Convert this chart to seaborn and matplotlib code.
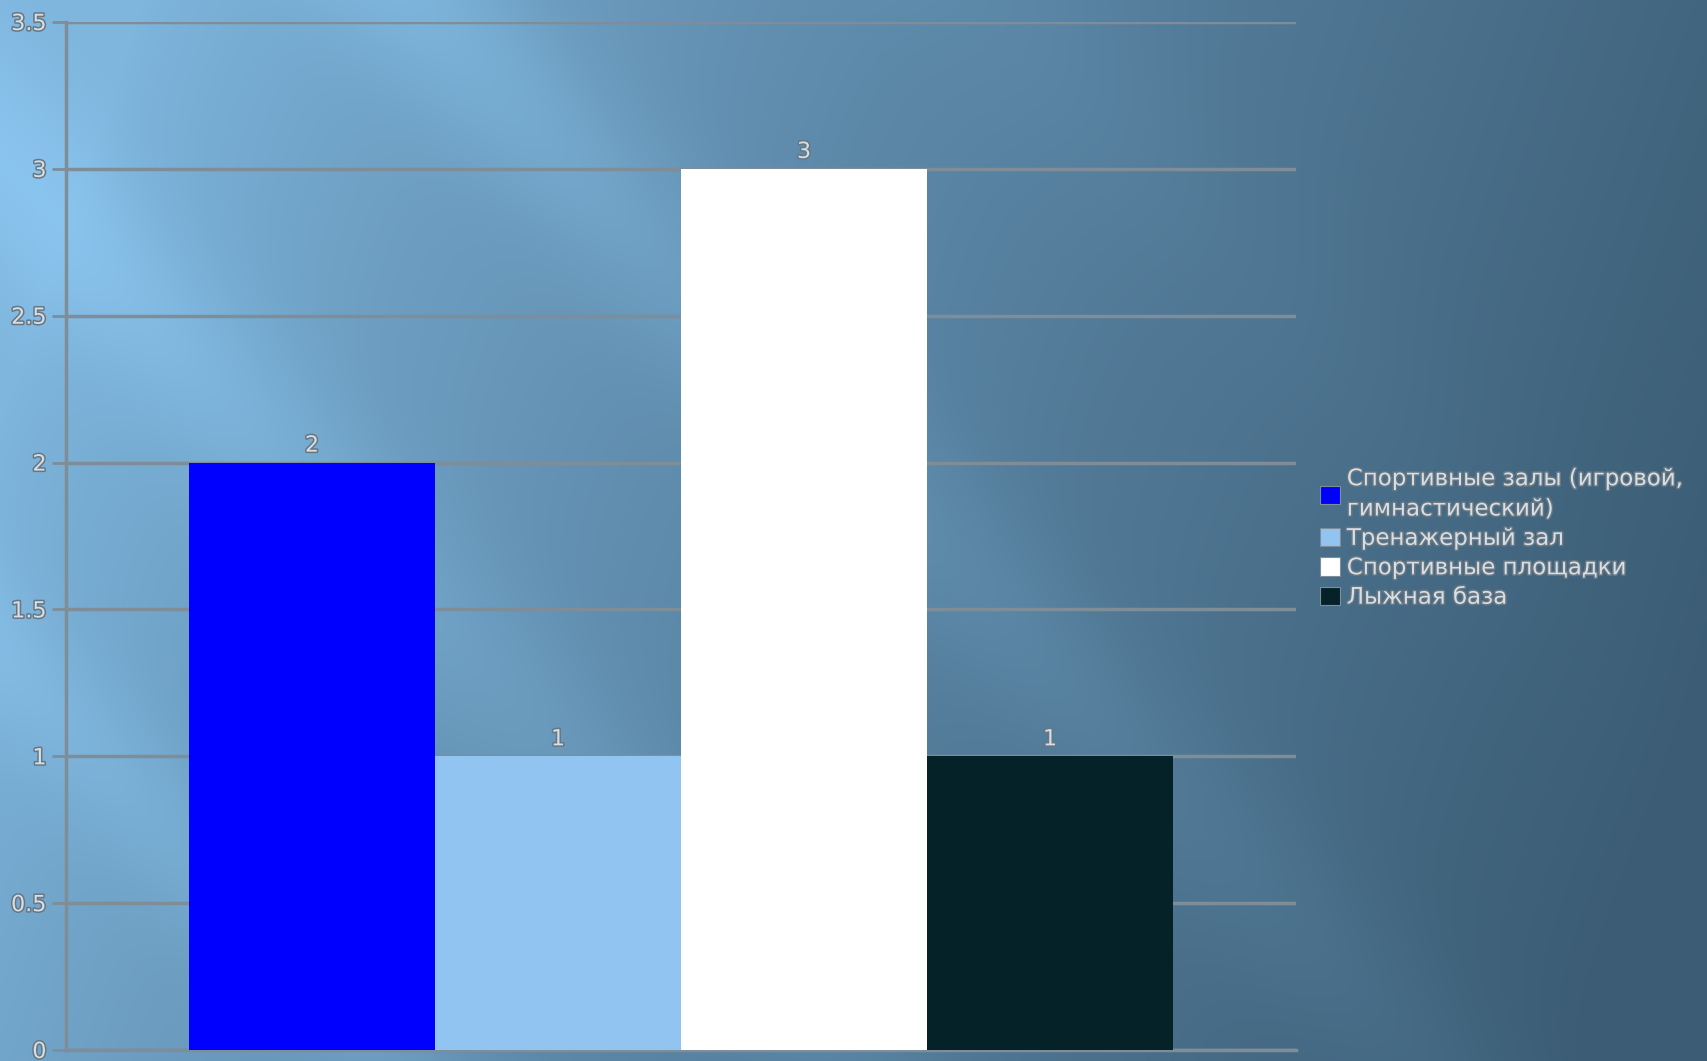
import numpy as np
import pandas as pd
import seaborn as sns
import matplotlib.pyplot as plt
import matplotlib.patheffects as pe
from matplotlib.colors import to_rgb

# Data
facilities = [
    "Спортивные залы (игровой,\nгимнастический)",
    "Тренажерный зал",
    "Спортивные площадки",
    "Лыжная база",
]
counts = [2, 1, 3, 1]
bar_colors = ["#0000ff", "#92c4f2", "#ffffff", "#062229"]
y_ticks = [0, 0.5, 1, 1.5, 2, 2.5, 3, 3.5]
y_tick_labels = ["0", "0.5", "1", "1.5", "2", "2.5", "3", "3.5"]

W, H = 1707, 1061
TEXT = "#d9dee2"
GRID = "#7f8d98"
outline = [pe.withStroke(linewidth=2.2, foreground="#667784")]

sns.set_theme(style="white")
plt.rcParams["font.family"] = ["DejaVu Sans"]

fig = plt.figure(figsize=(W / 100, H / 100), dpi=100)

# --- background gradient with diagonal light streaks ---
bg = fig.add_axes([0, 0, 1, 1], zorder=-10)
xx, yy = np.meshgrid(np.arange(W), np.arange(H))
xn, yn = xx / W, yy / H
light = np.array(to_rgb("#7fb6de"))
dark = np.array(to_rgb("#3b5c74"))
t = np.clip(0.95 * xn + 0.2 * yn - 0.08, 0, 1) ** 0.8
img = light * (1 - t[..., None]) + dark * t[..., None]
d = xx - 0.95 * yy
streak = (0.09 * np.exp(-((d - 420) / 110.0) ** 2) * np.clip(1.2 - xn, 0, 1)
          + 0.07 * np.exp(-((d + 150) / 110.0) ** 2) * np.clip(1.1 - xn, 0, 1)
          + 0.06 * np.exp(-((d + 620) / 90.0) ** 2)
          + 0.05 * np.exp(-((d - 1000) / 130.0) ** 2) * np.clip(1.0 - xn, 0, 1))
img = np.clip(img + streak[..., None] * np.array([0.6, 0.8, 0.9]), 0, 1)
bg.imshow(img, aspect="auto", extent=[0, 1, 0, 1], origin="upper")
bg.axis("off")

# --- main axes ---
ax = fig.add_axes([66 / W, 1 - 1050 / H, 1230 / W, 1028 / H])
ax.patch.set_alpha(0)

df = pd.DataFrame({"group": [""] * len(facilities),
                   "facility": facilities,
                   "count": counts})
sns.barplot(data=df, x="group", y="count", hue="facility",
            hue_order=facilities, palette=bar_colors, width=0.8,
            saturation=1, dodge=True, ax=ax, zorder=3, linewidth=0)

for cont in ax.containers:
    labels = ax.bar_label(cont, padding=5, fontsize=16, color=TEXT)
    for lb in labels:
        lb.set_path_effects(outline)

ax.set_ylim(0, 3.5)
ax.set_xlim(-0.5, 0.5)
ax.set_yticks(y_ticks)
ax.set_yticklabels(y_tick_labels)
ax.yaxis.grid(True, color=GRID, linewidth=2.5, zorder=1)
ax.set_axisbelow(True)
ax.set_xlabel("")
ax.set_ylabel("")
ax.set_xticks([])
ax.tick_params(axis="y", length=10, width=2, color=GRID, pad=4,
               labelsize=16, labelcolor=TEXT, left=True)
for lb in ax.get_yticklabels():
    lb.set_path_effects(outline)
for side in ["top", "right"]:
    ax.spines[side].set_visible(False)
ax.spines["left"].set_color(GRID)
ax.spines["left"].set_linewidth(2.5)
ax.spines["bottom"].set_color(GRID)
ax.spines["bottom"].set_linewidth(2.5)

handles, labels = ax.get_legend_handles_labels()
if ax.legend_:
    ax.legend_.remove()
leg = fig.legend(handles, labels, loc="center left",
                 bbox_to_anchor=(1309 / W, 1 - 538 / H),
                 frameon=False, fontsize=16.5, handlelength=0.85,
                 handleheight=0.85, handletextpad=0.3, labelspacing=0.28,
                 borderpad=0)
for txt in leg.get_texts():
    txt.set_color(TEXT)
    txt.set_linespacing(1.4)
    txt.set_path_effects(outline)
for p in leg.get_patches():
    p.set_edgecolor("#7f8d98")
    p.set_linewidth(0.8)

fig.savefig("out.png", dpi=100)
